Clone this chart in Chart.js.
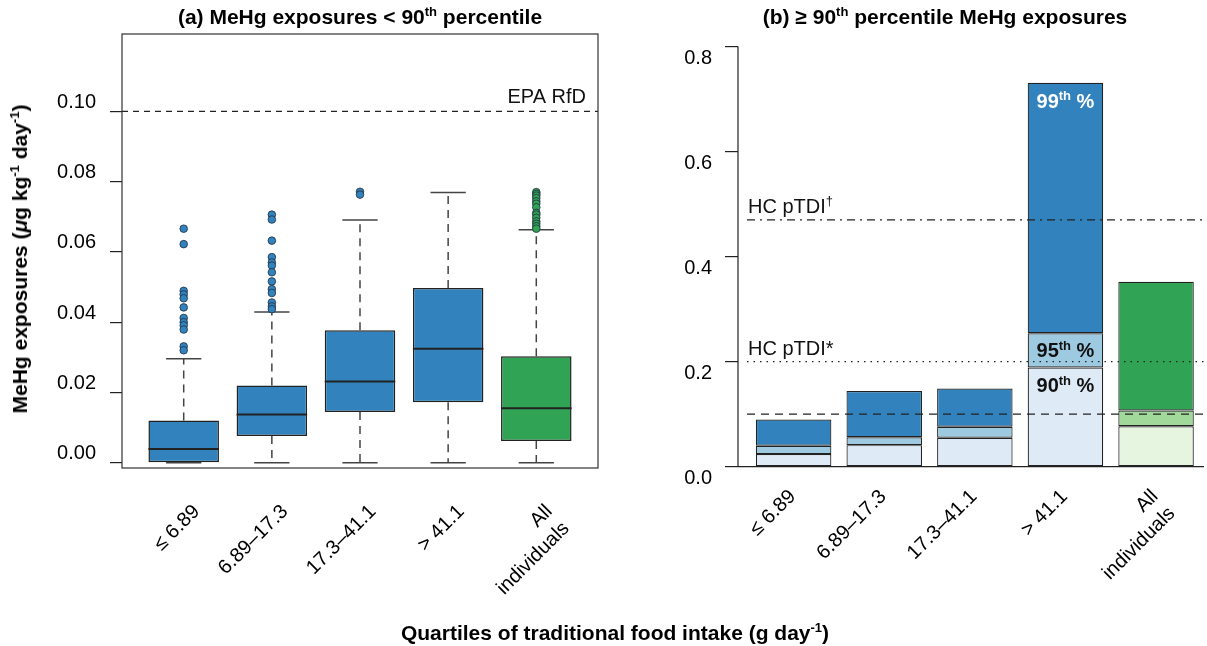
<!DOCTYPE html>
<html lang="en">
<head>
<meta charset="UTF-8">
<title>MeHg exposures by traditional food intake</title>
<script src="https://cdn.jsdelivr.net/npm/chart.js"></script>
<style>
    body { margin: 0; background: #fff; font-family: 'Liberation Sans', Arial, sans-serif; }
    #page { position: relative; width: 1207px; height: 646px; overflow: hidden; }
    canvas { position: absolute; top: 0; }
    #left { left: 0; }
    #right { left: 610px; }
    .lbl { position: absolute; font-weight: bold; font-size: 21px; white-space: nowrap; color: #000;
           transform: translate(-50%, -50%); }
    .lbl sup { font-size: 13px; vertical-align: 0; position: relative; top: -8px; line-height: 0; }
    #ytitle { transform: translate(-50%, -50%) rotate(-90deg); }
</style>
</head>
<body>
<div id="page">
    <canvas id="left" width="610" height="646"></canvas>
    <canvas id="right" width="597" height="646"></canvas>
    <div class="lbl" style="left:360px; top:17px;">(a) MeHg exposures &lt; 90<sup>th</sup> percentile</div>
    <div class="lbl" style="left:945px; top:17px;">(b) &ge; 90<sup>th</sup> percentile MeHg exposures</div>
    <div class="lbl" id="ytitle" style="left:20px; top:259px;">MeHg exposures (<i>&mu;</i>g kg<sup>-1</sup> day<sup>-1</sup>)</div>
    <div class="lbl" style="left:615px; top:633px;">Quartiles of traditional food intake (g day<sup>-1</sup>)</div>
</div>
<script>
    const FONT = "'Liberation Sans', Arial, sans-serif";

    // categories
    const groups = ['≤ 6.89', '6.89–17.3', '17.3–41.1', '> 41.1', ['All', 'individuals']];

    // (a) box plot summaries, exposures below the 90th percentile
    const boxMin = [0, 0, 0, 0, 0];
    const boxQ1 = [0.0000, 0.0076, 0.0144, 0.0172, 0.0062];
    const boxMed = [0.0039, 0.0137, 0.0231, 0.0324, 0.0155];
    const boxQ3 = [0.0120, 0.0220, 0.0377, 0.0497, 0.0303];
    const boxMax = [0.0296, 0.0429, 0.0691, 0.0769, 0.0663];
    const outliersQ1 = [0.0666, 0.0622, 0.0489, 0.0479, 0.0468, 0.0442, 0.0412, 0.0400, 0.0391, 0.0379, 0.0331, 0.0320];
    const outliersQ2 = [0.0706, 0.0692, 0.0632, 0.0585, 0.0570, 0.0561, 0.0542, 0.0516, 0.0494, 0.0483, 0.0456, 0.0445, 0.0437];
    const outliersQ3 = [0.0771, 0.0763];
    const outliersQ4 = [];
    const outliersAll = [0.0770, 0.0765, 0.0760, 0.0753, 0.0744, 0.0737, 0.0727, 0.0711, 0.0706, 0.0697, 0.0687, 0.0680, 0.0673, 0.0666];
    const leftTicks = [0, 0.02, 0.04, 0.06, 0.08, 0.10];
    const epaRfd = 0.10;

    // (b) upper percentiles
    const p90 = [0.024, 0.041, 0.055, 0.189, 0.077];
    const p95 = [0.040, 0.056, 0.076, 0.254, 0.107];
    const p99 = [0.090, 0.144, 0.149, 0.731, 0.352];
    const rightTicks = [0, 0.2, 0.4, 0.6, 0.8];
    const hcPtdiStar = 0.2;
    const hcPtdiDagger = 0.47;
    const refDashed = 0.1;

    const blue = ['#DEEBF7', '#9ECAE1', '#3182BD'];
    const green = ['#E5F5E0', '#A1D99B', '#31A354'];
    const boxColors = ['#3182BD', '#3182BD', '#3182BD', '#3182BD', '#31A354'];

    const tickFont = { family: FONT, size: 20 };

    function richText(ctx, parts, x, y, align, size, weight, color) {
        const fnt = s => weight + ' ' + s + 'px ' + FONT;
        const supSize = Math.round(size * 0.63);
        let w = 0;
        parts.forEach(p => { ctx.font = fnt(p[1] ? supSize : size); w += ctx.measureText(p[0]).width; });
        let cx = align === 'center' ? x - w / 2 : (align === 'right' ? x - w : x);
        ctx.fillStyle = color;
        ctx.textAlign = 'left';
        ctx.textBaseline = 'alphabetic';
        parts.forEach(p => {
            ctx.font = fnt(p[1] ? supSize : size);
            ctx.fillText(p[0], cx, p[1] ? y - size * 0.38 : y);
            cx += ctx.measureText(p[0]).width;
        });
    }

    function hline(ctx, x1, x2, y, dash) {
        ctx.save();
        ctx.strokeStyle = '#222';
        ctx.lineWidth = 1.2;
        ctx.setLineDash(dash);
        ctx.beginPath();
        ctx.moveTo(x1, y);
        ctx.lineTo(x2, y);
        ctx.stroke();
        ctx.restore();
    }

    // ---------- (a) box plots ----------
    const outlierSets = [outliersQ1, outliersQ2, outliersQ3, outliersQ4, outliersAll];
    const outlierPts = [];
    const outlierColors = [];
    outlierSets.forEach((set, i) => {
        set.forEach(v => {
            outlierPts.push({ x: i + 1, y: v });
            outlierColors.push(boxColors[i]);
        });
    });

    const boxPlugin = {
        id: 'boxParts',
        beforeDatasetsDraw(chart) {
            const ctx = chart.ctx, xs = chart.scales.x, ys = chart.scales.y;
            ctx.save();
            ctx.strokeStyle = '#444';
            ctx.lineWidth = 1.5;
            groups.forEach((g, i) => {
                const cx = xs.getPixelForValue(i + 1);
                const half = xs.getPixelForValue(i + 1.2) - cx;
                // whiskers
                ctx.setLineDash([8, 6]);
                ctx.beginPath();
                ctx.moveTo(cx, ys.getPixelForValue(boxQ3[i]));
                ctx.lineTo(cx, ys.getPixelForValue(boxMax[i]));
                ctx.moveTo(cx, ys.getPixelForValue(boxQ1[i]));
                ctx.lineTo(cx, ys.getPixelForValue(boxMin[i]));
                ctx.stroke();
                // caps
                ctx.setLineDash([]);
                ctx.beginPath();
                [boxMax[i], boxMin[i]].forEach(v => {
                    const y = ys.getPixelForValue(v);
                    ctx.moveTo(cx - half, y);
                    ctx.lineTo(cx + half, y);
                });
                ctx.stroke();
            });
            ctx.restore();
        },
        afterDatasetsDraw(chart) {
            const ctx = chart.ctx, xs = chart.scales.x, ys = chart.scales.y, a = chart.chartArea;
            ctx.save();
            ctx.strokeStyle = '#222';
            ctx.lineWidth = 2;
            groups.forEach((g, i) => {
                const l = xs.getPixelForValue(i + 0.6), r = xs.getPixelForValue(i + 1.4);
                const y = ys.getPixelForValue(boxMed[i]);
                ctx.beginPath();
                ctx.moveTo(l, y);
                ctx.lineTo(r, y);
                ctx.stroke();
            });
            ctx.restore();
            const ye = ys.getPixelForValue(epaRfd);
            hline(ctx, a.left, a.right, ye, [6, 5]);
            richText(ctx, [['EPA RfD', false]], a.right - 12, ye - 8, 'right', 20, 'normal', '#111');
            ctx.save();
            ctx.strokeStyle = '#333';
            ctx.lineWidth = 1.2;
            ctx.strokeRect(a.left, a.top, a.right - a.left, a.bottom - a.top);
            ctx.restore();
        }
    };

    new Chart(document.getElementById('left'), {
        type: 'bar',
        data: {
            datasets: [{
                type: 'scatter',
                data: outlierPts,
                pointRadius: 3.8,
                pointBackgroundColor: outlierColors,
                pointBorderColor: '#1f2f3f',
                pointBorderWidth: 0.8
            }, {
                type: 'bar',
                data: boxQ1.map((q, i) => ({ x: i + 1, y: [q, boxQ3[i]] })),
                backgroundColor: boxColors,
                borderColor: '#222',
                borderWidth: 1.5,
                borderSkipped: false,
                barPercentage: 0.8,
                categoryPercentage: 1
            }]
        },
        options: {
            responsive: false,
            animation: false,
            layout: { padding: { top: 34, right: 12, left: 0, bottom: 0 } },
            plugins: { legend: { display: false }, tooltip: { enabled: false } },
            scales: {
                x: {
                    type: 'linear', min: 0.3, max: 5.7, offset: false,
                    grid: { display: false, drawTicks: false, offset: false },
                    border: { display: false },
                    afterBuildTicks: s => { s.ticks = groups.map((g, i) => ({ value: i + 1 })); },
                    afterFit: s => { s.height = 178; },
                    ticks: {
                        autoSkip: false, minRotation: 45, maxRotation: 45, padding: 32, labelOffset: 13,
                        font: tickFont, color: '#000',
                        callback: (v, i) => groups[i]
                    }
                },
                y: {
                    min: -0.0015, max: 0.122,
                    afterBuildTicks: s => { s.ticks = leftTicks.map(v => ({ value: v })); },
                    afterFit: s => { s.width = 122; },
                    grid: { drawOnChartArea: false, tickLength: 12, color: '#222', lineWidth: 1.2 },
                    border: { display: false },
                    ticks: { font: tickFont, color: '#000', padding: 14, labelOffset: -9, callback: v => v.toFixed(2) }
                }
            }
        },
        plugins: [boxPlugin]
    });

    // ---------- (b) stacked percentile bars ----------
    const colorsFor = k => groups.map((g, i) => (i === 4 ? green[k] : blue[k]));

    const barPlugin = {
        id: 'barParts',
        beforeDatasetsDraw(chart) {
            const ctx = chart.ctx, ys = chart.scales.y, a = chart.chartArea;
            ctx.save();
            ctx.strokeStyle = '#222';
            ctx.lineWidth = 1.2;
            ctx.beginPath();
            ctx.moveTo(a.left, ys.getPixelForValue(rightTicks[0]));
            ctx.lineTo(a.left, ys.getPixelForValue(rightTicks[rightTicks.length - 1]));
            ctx.moveTo(a.left, ys.getPixelForValue(0));
            ctx.lineTo(a.right, ys.getPixelForValue(0));
            ctx.stroke();
            ctx.restore();
        },
        afterDatasetsDraw(chart) {
            const ctx = chart.ctx, xs = chart.scales.x, ys = chart.scales.y, a = chart.chartArea;
            const x0 = a.left + 9;
            hline(ctx, x0, a.right, ys.getPixelForValue(refDashed), [8, 6]);
            hline(ctx, x0, a.right, ys.getPixelForValue(hcPtdiStar), [1.5, 5]);
            hline(ctx, x0, a.right, ys.getPixelForValue(hcPtdiDagger), [8, 5, 2, 5]);
            richText(ctx, [['HC pTDI', false], ['†', true]], x0 + 1, ys.getPixelForValue(hcPtdiDagger) - 7, 'left', 20, 'normal', '#111');
            richText(ctx, [['HC pTDI*', false]], x0 + 1, ys.getPixelForValue(hcPtdiStar) - 7, 'left', 20, 'normal', '#111');
            const cx = xs.getPixelForValue(4);
            richText(ctx, [['99', false], ['th', true], [' %', false]], cx, ys.getPixelForValue(p99[3]) + 25, 'center', 20, 'bold', '#fff');
            richText(ctx, [['95', false], ['th', true], [' %', false]], cx, (ys.getPixelForValue(p90[3]) + ys.getPixelForValue(p95[3])) / 2 + 7, 'center', 20, 'bold', '#111');
            richText(ctx, [['90', false], ['th', true], [' %', false]], cx, ys.getPixelForValue(p90[3]) + 25, 'center', 20, 'bold', '#111');
        }
    };

    const segment = (lo, hi, k) => ({
        data: hi.map((v, i) => ({ x: i + 1, y: [lo ? lo[i] : 0, v] })),
        backgroundColor: colorsFor(k),
        borderColor: '#222',
        borderWidth: 1.2,
        borderSkipped: false,
        barPercentage: 0.833,
        categoryPercentage: 1
    });

    new Chart(document.getElementById('right'), {
        type: 'bar',
        data: { datasets: [segment(null, p90, 0), segment(p90, p95, 1), segment(p95, p99, 2)] },
        options: {
            responsive: false,
            animation: false,
            layout: { padding: { top: 34, right: 0, left: 0, bottom: 0 } },
            plugins: { legend: { display: false }, tooltip: { enabled: false } },
            scales: {
                x: {
                    type: 'linear', min: 0.386, max: 5.529, offset: false, stacked: true,
                    grid: { display: false, drawTicks: false, offset: false },
                    border: { display: false },
                    afterBuildTicks: s => { s.ticks = groups.map((g, i) => ({ value: i + 1 })); },
                    afterFit: s => { s.height = 178; },
                    ticks: {
                        autoSkip: false, minRotation: 45, maxRotation: 45, padding: 17, labelOffset: -1,
                        font: tickFont, color: '#000',
                        callback: (v, i) => groups[i]
                    }
                },
                y: {
                    min: -0.0025, max: 0.824, stacked: false,
                    afterBuildTicks: s => { s.ticks = rightTicks.map(v => ({ value: v })); },
                    afterFit: s => { s.width = 128; },
                    grid: { drawOnChartArea: false, tickLength: 13, color: '#222', lineWidth: 1.2 },
                    border: { display: false },
                    ticks: { font: tickFont, color: '#000', padding: 13, labelOffset: 12, callback: v => v.toFixed(1) }
                }
            }
        },
        plugins: [barPlugin]
    });
</script>
</body>
</html>
